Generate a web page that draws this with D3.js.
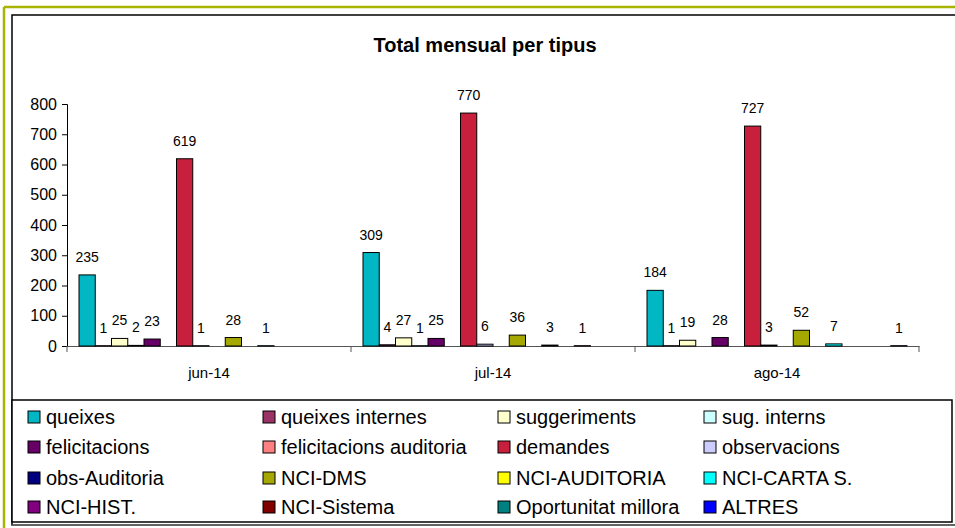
<!DOCTYPE html>
<html lang="ca">
<head>
<meta charset="UTF-8">
<title>Total mensual per tipus</title>
<script src="https://d3js.org/d3.v7.min.js"></script>
<style>
  body { margin: 0; background: #fff; }
  svg { display: block; font-family: "Liberation Sans", Arial, sans-serif; }
</style>
</head>
<body>
<svg width="955" height="528"></svg>
<script>
// months on the category axis
const months = ["jun-14", "jul-14", "ago-14"];

// series names, in legend order
const series = [
  "queixes", "queixes internes", "suggeriments", "sug. interns",
  "felicitacions", "felicitacions auditoria", "demandes", "observacions",
  "obs-Auditoria", "NCI-DMS", "NCI-AUDITORIA", "NCI-CARTA S.",
  "NCI-HIST.", "NCI-Sistema", "Oportunitat millora", "ALTRES"
];

// values per series (jun, jul, ago); null = no data
const queixes            = [235, 309, 184];
const queixesInternes    = [1, 4, 1];
const suggeriments       = [25, 27, 19];
const sugInterns         = [2, 1, null];
const felicitacions      = [23, 25, 28];
const felicitacionsAud   = [null, null, null];
const demandes           = [619, 770, 727];
const observacions       = [1, 6, 3];
const obsAuditoria       = [null, null, null];
const nciDms             = [28, 36, 52];
const nciAuditoria       = [null, null, null];
const nciCarta           = [1, 3, 7];
const nciHist            = [null, null, null];
const nciSistema         = [null, 1, null];
const oportunitat        = [null, null, null];
const altres             = [null, null, 1];

const yTicks = [0, 100, 200, 300, 400, 500, 600, 700, 800];

const colors = [
  "#00B7C3", "#993366", "#FFFFCC", "#CCFFFF",
  "#660066", "#FF8080", "#C8203C", "#CCCCFF",
  "#000080", "#A5A800", "#FFFF00", "#00FFFF",
  "#800080", "#800000", "#008080", "#0000FF"
];

const values = [queixes, queixesInternes, suggeriments, sugInterns,
  felicitacions, felicitacionsAud, demandes, observacions,
  obsAuditoria, nciDms, nciAuditoria, nciCarta,
  nciHist, nciSistema, oportunitat, altres];

const svg = d3.select("svg");

// frames
svg.append("line").attr("x1", 4).attr("x2", 955).attr("y1", 7).attr("y2", 7)
  .attr("stroke", "#A8B400").attr("stroke-width", 2.5);
svg.append("line").attr("x1", 4).attr("x2", 4).attr("y1", 7).attr("y2", 528)
  .attr("stroke", "#A8B400").attr("stroke-width", 2.5);
svg.append("rect").attr("x", 12).attr("y", 15).attr("width", 950).attr("height", 510)
  .attr("fill", "#fff").attr("stroke", "#000").attr("stroke-width", 1.5);

// title
svg.append("text")
  .attr("x", 485).attr("y", 52)
  .attr("text-anchor", "middle")
  .attr("font-size", 20).attr("font-weight", "bold")
  .text("Total mensual per tipus");

// scales
const x0 = d3.scaleBand().domain(months).range([67, 919]);
const x1 = d3.scaleBand().domain(series).range([12, x0.bandwidth() - 12]);
const y = d3.scaleLinear().domain([0, 800]).range([346, 104]);

// y axis
const yAxis = svg.append("g")
  .attr("transform", "translate(67,0)")
  .call(d3.axisLeft(y).tickValues(yTicks).tickSize(5).tickPadding(5));
yAxis.selectAll("text").attr("font-size", 16).attr("fill", "#000").attr("font-family", null);
yAxis.selectAll("line").attr("stroke", "#000");
yAxis.select(".domain").attr("stroke", "#000");

// x axis
const xAxis = svg.append("g")
  .attr("transform", "translate(0,346)")
  .call(d3.axisBottom(x0).tickSize(0).tickPadding(21));
xAxis.selectAll("text").attr("font-size", 15).attr("fill", "#000").attr("font-family", null);
xAxis.select(".domain").attr("stroke", "#555");
const bounds = months.map(m => x0(m)).concat([x0.range()[1]]);
xAxis.selectAll("line.sep").data(bounds).enter().append("line")
  .attr("class", "sep")
  .attr("x1", d => d).attr("x2", d => d)
  .attr("y1", 0).attr("y2", 6)
  .attr("stroke", "#555");

// bars
const groups = svg.append("g").selectAll("g")
  .data(months).enter().append("g")
  .attr("transform", m => `translate(${x0(m)},0)`);

const cells = groups.selectAll("g")
  .data((m, mi) => series.map((s, si) => ({ s, si, v: values[si][mi] })).filter(d => d.v !== null))
  .enter().append("g");

cells.append("rect")
  .attr("x", d => x1(d.s))
  .attr("y", d => y(d.v))
  .attr("width", x1.bandwidth())
  .attr("height", d => y(0) - y(d.v))
  .attr("fill", d => colors[d.si])
  .attr("stroke", "#000")
  .attr("stroke-width", 1);

cells.append("text")
  .attr("x", d => x1(d.s) + x1.bandwidth() / 2)
  .attr("y", d => y(d.v) - 13)
  .attr("text-anchor", "middle")
  .attr("font-size", 14)
  .text(d => d.v);

// legend
svg.append("rect").attr("x", 12).attr("y", 400).attr("width", 940).attr("height", 122)
  .attr("fill", "#fff").attr("stroke", "#000").attr("stroke-width", 1.5);
svg.append("line").attr("x1", 12).attr("x2", 955).attr("y1", 525).attr("y2", 525)
  .attr("stroke", "#888").attr("stroke-width", 1);

const colX = [28, 263, 498, 704];
const rowY = [417, 447, 478, 507];
const legend = svg.append("g").selectAll("g")
  .data(series).enter().append("g")
  .attr("transform", (s, i) => `translate(${colX[i % 4]},${rowY[Math.floor(i / 4)]})`);
legend.append("rect")
  .attr("x", 0).attr("y", -6).attr("width", 12).attr("height", 12)
  .attr("fill", (s, i) => colors[i]).attr("stroke", "#000").attr("stroke-width", 1);
legend.append("text")
  .attr("x", 18).attr("y", 7)
  .attr("font-size", 20)
  .text(s => s);
</script>
</body>
</html>
